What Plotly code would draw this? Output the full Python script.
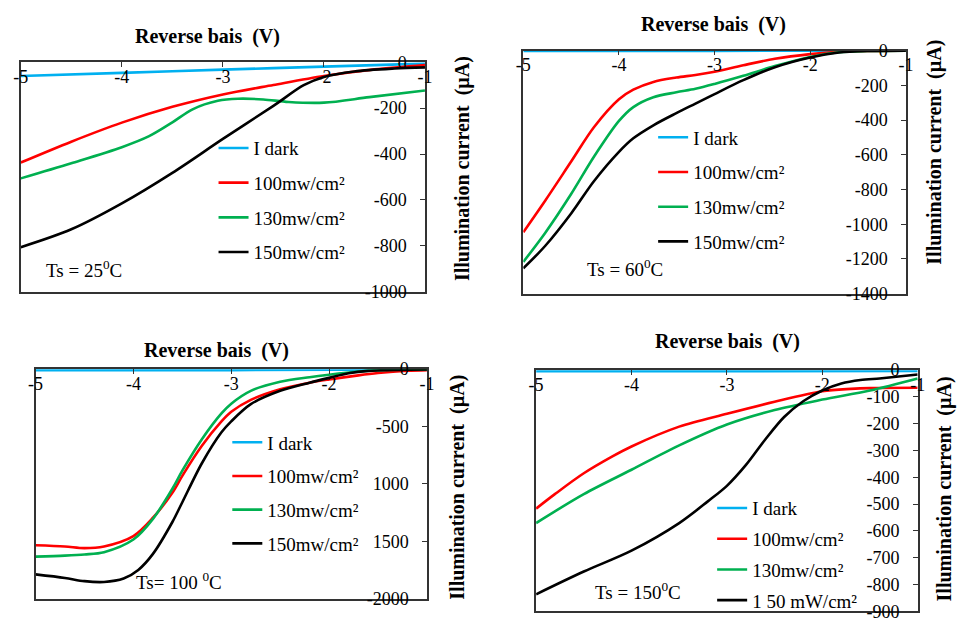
import plotly.graph_objects as go

W, H = 966, 627
SERIF = "Liberation Serif"

# ---------------- data ----------------
series_names = ["I dark", "100mw/cm²", "130mw/cm²", "150mw/cm²"]
series_names_150 = ["I dark", "100mw/cm²", "130mw/cm²", "1 50 mW/cm²"]
colors = ["#00B0F0", "#FF0000", "#00B050", "#000000"]

x_ticks = [-5, -4, -3, -2, -1]
x_ticktext = ["-5", "-4", "-3", "-2", "-1"]

# Ts = 25 C
v25_dark = [-5, -4, -3, -2, -1]
i25_dark = [-60, -46, -32, -19, -6]
v25_100 = [-5, -4.5, -4, -3.5, -3, -2.5, -2, -1.5, -1]
i25_100 = [-437, -346, -263, -194, -140, -99, -60, -31, -12]
v25_130 = [-5, -4.5, -4, -3.73, -3.5, -3.3, -3.05, -2.85, -2.6, -2.35, -2.0, -1.55, -1]
i25_130 = [-506, -440, -370, -322, -262, -205, -168, -159, -162, -173, -176, -152, -123]
v25_150 = [-5, -4.5, -4, -3.5, -3, -2.5, -2.2, -2, -1.7, -1.3, -1]
i25_150 = [-806, -728, -615, -482, -334, -190, -100, -64, -40, -27, -22]
y25_ticks = [0, -200, -400, -600, -800, -1000]
y25_text = ["0", "-200", "-400", "-600", "-800", "-1000"]

# Ts = 60 C
v60_dark = [-5, -3, -1]
i60_dark = [-2, -1, 0]
v60 = [-5, -4.77, -4.5, -4.26, -4, -3.85, -3.64, -3.4, -3.2, -3, -2.7, -2.37, -2, -1.7, -1.4, -1]
i60_100 = [-1046, -863, -639, -440, -280, -225, -180, -155, -140, -121, -84, -47, -20, -6, -1, 0]
i60_130 = [-1217, -1049, -826, -610, -405, -325, -268, -240, -220, -192, -145, -89, -36, -9, -2, 0]
i60_150 = [-1254, -1124, -938, -751, -583, -505, -430, -360, -305, -250, -170, -95, -39, -11, -2, 0]
y60_ticks = [0, -200, -400, -600, -800, -1000, -1200, -1400]
y60_text = ["0", "-200", "-400", "-600", "-800", "-1000", "-1200", "-1400"]

# Ts = 100 C
v100_dark = [-5, -3, -1]
i100_dark = [-10, -8, -3]
v100 = [-5, -4.7, -4.5, -4.3, -4, -3.8, -3.6, -3.5, -3.3, -3.1, -3, -2.8, -2.5, -2.2, -2, -1.7, -1.5, -1.2, -1]
i100_100 = [-1535, -1546, -1560, -1545, -1455, -1295, -1075, -930, -668, -456, -372, -268, -175, -118, -90, -54, -34, -14, -8]
i100_130 = [-1634, -1625, -1615, -1595, -1485, -1305, -1040, -885, -611, -386, -301, -189, -110, -70, -48, -20, -8, -4, -3]
v100_150 = [-5, -4.7, -4.5, -4.3, -4.1, -3.95, -3.8, -3.6, -3.5, -3.3, -3.1, -3, -2.8, -2.5, -2.2, -2, -1.8, -1.6, -1.3, -1]
i100_150 = [-1789, -1820, -1848, -1855, -1825, -1750, -1610, -1330, -1160, -820, -550, -455, -305, -189, -118, -76, -36, -15, -6, -3]
y100_ticks = [0, -500, -1000, -1500, -2000]
y100_text = ["0", "-500", "1000", "1500", "-2000"]

# Ts = 150 C
v150_dark = [-5, -3, -1]
i150_dark = [-4, -4, -3]
v150_100 = [-5, -4.8, -4.5, -4.2, -4, -3.5, -3, -2.5, -2, -1.7, -1.5, -1]
i150_100 = [-517, -462, -385, -322, -285, -211, -163, -118, -79, -70, -67, -66]
v150_130 = [-5, -4.5, -4, -3.5, -3, -2.5, -2, -1.5, -1]
i150_130 = [-571, -463, -372, -281, -203, -149, -110, -76, -31]
v150_150 = [-5, -4.5, -4, -3.5, -3.2, -3, -2.8, -2.6, -2.4, -2.2, -2, -1.8, -1.6, -1.4, -1.2, -1]
i150_150 = [-837, -752, -674, -571, -490, -432, -354, -260, -175, -116, -76, -50, -37, -31, -24, -16]
y150_ticks = [0, -100, -200, -300, -400, -500, -600, -700, -800, -900]
y150_text = ["0", "-100", "-200", "-300", "-400", "-500", "-600", "-700", "-800", "-900"]

panel_titles = ["Ts = 25<sup>0</sup>C", "Ts = 60<sup>0</sup>C", "Ts= 100 <sup>0</sup>C", "Ts = 150<sup>0</sup>C"]
x_title = "Reverse bais  (V)"
y_title = "Illumination current  (µA)"

panels = [
    dict(curves=[(v25_dark, i25_dark), (v25_100, i25_100), (v25_130, i25_130), (v25_150, i25_150)],
         names=series_names, yr=[-1000, 0], yt=y25_ticks, ytt=y25_text,
         box=(13, 424, 54, 291), title_xy=(203, 27), ytitle_xy=(462, 164),
         ts_xy=(37, 268), leg_xy=(223, 139), gap=7),
    dict(curves=[(v60_dark, i60_dark), (v60, i60_100), (v60, i60_130), (v60, i60_150)],
         names=series_names, yr=[-1400, 0], yt=y60_ticks, ytt=y60_text,
         box=(524, 913, 42, 293), title_xy=(717, 15), ytitle_xy=(942, 147),
         ts_xy=(587, 267), leg_xy=(670, 128), gap=7),
    dict(curves=[(v100_dark, i100_dark), (v100, i100_100), (v100, i100_130), (v100_150, i100_150)],
         names=series_names, yr=[-2000, 0], yt=y100_ticks, ytt=y100_text,
         box=(28, 426, 371, 608), title_xy=(212, 352), ytitle_xy=(457, 493),
         ts_xy=(128, 590), leg_xy=(237, 443), gap=6),
    dict(curves=[(v150_dark, i150_dark), (v150_100, i150_100), (v150_130, i150_130), (v150_150, i150_150)],
         names=series_names_150, yr=[-900, 0], yt=y150_ticks, ytt=y150_text,
         box=(537, 925, 372, 621), title_xy=(732, 342), ytitle_xy=(952, 495),
         ts_xy=(595, 600), leg_xy=(730, 511), gap=3),
]

fig = go.Figure()
annotations = []
layout = {}
tick_font = dict(family=SERIF, size=18, color="#000000")

for k, p in enumerate(panels):
    n = k + 1
    xa = "x" if n == 1 else f"x{n}"
    ya = "y" if n == 1 else f"y{n}"
    leg = "legend" if n == 1 else f"legend{n}"
    for j, (xs, ys) in enumerate(p["curves"]):
        fig.add_trace(go.Scatter(
            x=xs, y=ys, mode="lines", name=p["names"][j],
            line=dict(color=colors[j], width=2.6, shape="spline", smoothing=0.9),
            xaxis=xa, yaxis=ya, legend=leg, legendgroup=f"g{n}_{j}",
            hoverinfo="skip"))
    x0, x1, y0, y1 = p["box"]
    layout["xaxis" if n == 1 else f"xaxis{n}"] = dict(
        domain=[x0 / W, x1 / W], range=[-5, -1], side="top", anchor=ya,
        tickvals=x_ticks, ticktext=x_ticktext, ticks="inside", ticklen=5,
        tickcolor="#333", ticklabelposition="inside", ticklabeloverflow="allow",
        ticklabelstandoff=4,
        showline=True, linecolor="#333", linewidth=1.6, mirror=True,
        showgrid=False, zeroline=False, tickfont=tick_font, fixedrange=True)
    layout["yaxis" if n == 1 else f"yaxis{n}"] = dict(
        domain=[1 - y1 / H, 1 - y0 / H], range=p["yr"], side="right", anchor=xa,
        tickvals=p["yt"], ticktext=p["ytt"], ticks="inside", ticklen=5,
        tickcolor="#333", ticklabelposition="inside", ticklabeloverflow="allow",
        ticklabelstandoff=14,
        showline=True, linecolor="#333", linewidth=1.6, mirror=True,
        showgrid=False, zeroline=False, tickfont=tick_font, fixedrange=True)
    lx, ly = p["leg_xy"]
    layout[leg] = dict(
        x=(lx - 14) / W, y=1 - (ly - 16) / H, xanchor="left", yanchor="top",
        bgcolor="rgba(0,0,0,0)", borderwidth=0, tracegroupgap=p["gap"],
        font=dict(family=SERIF, size=19, color="#000000"))
    tx, ty = p["title_xy"]
    annotations.append(dict(
        text="<b>" + x_title + "</b>", x=tx / W, y=1 - ty / H, xref="paper", yref="paper",
        showarrow=False, xanchor="center", yanchor="middle",
        font=dict(family=SERIF, size=20, color="#000000")))
    rx, ry = p["ytitle_xy"]
    annotations.append(dict(
        text="<b>" + y_title + "</b>", x=rx / W, y=1 - ry / H, xref="paper", yref="paper",
        showarrow=False, xanchor="center", yanchor="middle", textangle=-90,
        font=dict(family=SERIF, size=20, color="#000000")))
    sx, sy = p["ts_xy"]
    annotations.append(dict(
        text=panel_titles[k], x=sx / W, y=1 - sy / H, xref="paper", yref="paper",
        showarrow=False, xanchor="left", yanchor="middle",
        font=dict(family=SERIF, size=19, color="#000000")))

fig.update_layout(
    width=W, height=H, margin=dict(l=0, r=0, t=0, b=0),
    paper_bgcolor="white", plot_bgcolor="white",
    showlegend=True, annotations=annotations, **layout)

fig.write_html("out.html", config={"displayModeBar": False})
